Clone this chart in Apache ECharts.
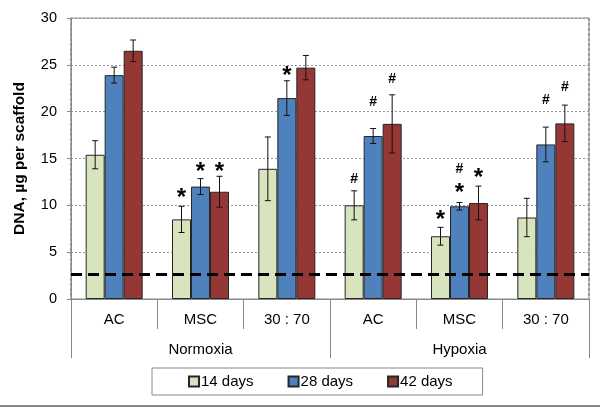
<!DOCTYPE html>
<html><head><meta charset="utf-8">
<script src="https://cdn.jsdelivr.net/npm/echarts@6/dist/echarts.min.js"></script>
<style>html,body{margin:0;padding:0;background:#fff}#c{width:600px;height:407px}</style>
</head><body><div id="c"></div>
<script>
var categories = ['AC', 'MSC', '30 : 70', 'AC', 'MSC', '30 : 70'];
var groups = ['Normoxia', 'Hypoxia'];
var seriesNames = ['14 days', '28 days', '42 days'];
var d14 = [15.4, 8.5, 13.9, 10.0, 6.7, 8.7];
var d28 = [23.9, 12.0, 21.45, 17.4, 9.9, 16.5];
var d42 = [26.5, 11.45, 24.7, 18.7, 10.25, 18.75];
var e14 = [1.5, 1.4, 3.4, 1.55, 0.95, 2.05];
var e28 = [0.85, 0.85, 1.85, 0.8, 0.4, 1.85];
var e42 = [1.15, 1.65, 1.3, 3.1, 1.8, 1.95];
var baseline = 2.6;
// [category index, series index, y position, symbol]
var marks = [
  [1, 0, 11.3, '*'], [1, 1, 14.0, '*'], [1, 2, 14.1, '*'],
  [2, 1, 24.3, '*'],
  [3, 0, 12.8, '#'], [3, 1, 21.0, '#'], [3, 2, 23.5, '#'],
  [4, 0, 8.9, '*'], [4, 1, 13.9, '#'], [4, 1, 11.85, '*'], [4, 2, 13.45, '*'],
  [5, 1, 21.2, '#'], [5, 2, 22.6, '#']
];

var BW = 19;
var colors = ['#D7E4BD', '#4F81BD', '#953735'];
var font = 'Liberation Sans, Arial, sans-serif';
var vals = [d14, d28, d42], errs = [e14, e28, e42];

var errData = [];
for (var s = 0; s < 3; s++) for (var i = 0; i < categories.length; i++)
  errData.push([i, s, vals[s][i] - errs[s][i], vals[s][i] + errs[s][i]]);

var series = [];
for (var s = 0; s < 3; s++) {
  series.push({
    type: 'bar', name: seriesNames[s], data: vals[s], barWidth: BW, barGap: '0%',
    itemStyle: {color: colors[s], borderColor: '#262626', borderWidth: 1},
    z: 2,
    markLine: s === 0 ? {
      silent: true, symbol: 'none', label: {show: false},
      lineStyle: {color: '#000', width: 3, type: [11, 6]},
      data: [{yAxis: baseline}]
    } : undefined
  });
}
series.push({
  type: 'custom', z: 5, silent: true,
  data: errData,
  renderItem: function (params, api) {
    var c = api.value(0), si = api.value(1);
    var top = api.coord([c, api.value(3)]);
    var bot = api.coord([c, api.value(2)]);
    var x = top[0] + (si - 1) * BW;
    var cap = 3;
    var st = {stroke: '#111', lineWidth: 1};
    return {type: 'group', children: [
      {type: 'line', shape: {x1: x, y1: top[1], x2: x, y2: bot[1]}, style: st},
      {type: 'line', shape: {x1: x - cap, y1: top[1], x2: x + cap, y2: top[1]}, style: st},
      {type: 'line', shape: {x1: x - cap, y1: bot[1], x2: x + cap, y2: bot[1]}, style: st}
    ]};
  }
});
series.push({
  type: 'custom', z: 6, silent: true,
  data: marks,
  renderItem: function (params, api) {
    var c = api.value(0), si = api.value(1);
    var p = api.coord([c, api.value(2)]);
    var m = marks[params.dataIndex][3];
    var isStar = m === '*';
    return {type: 'text', x: p[0] + (si - 1) * BW, y: p[1] + (isStar ? 5 : 0),
      style: {text: m, fill: '#000', font: 'bold ' + (isStar ? 24 : 14) + 'px ' + font,
        align: 'center', verticalAlign: 'middle'}};
  }
});

var chart = echarts.init(document.getElementById('c'));
chart.setOption({
  animation: false,
  backgroundColor: '#fff',
  grid: {left: 71, right: 11, top: 18, bottom: 108, show: true, borderColor: '#888', borderWidth: 1},
  legend: {
    data: seriesNames, left: 152, top: 368, orient: 'horizontal',
    padding: [6, 30, 6, 36], itemGap: 34, itemWidth: 10, itemHeight: 10,
    borderColor: '#888', borderWidth: 1, icon: 'rect',
    textStyle: {fontFamily: font, fontSize: 15, color: '#000', padding: [0, 0, 0, -3]}
  },
  xAxis: [{
    type: 'category', data: categories, position: 'bottom',
    axisLine: {show: true, lineStyle: {color: '#888'}},
    axisTick: {show: true, length: 30, lineStyle: {color: '#888'}},
    axisLabel: {fontFamily: font, fontSize: 15, color: '#000', margin: 13},
    splitLine: {show: false}
  }, {
    type: 'category', data: groups, position: 'bottom',
    axisLine: {show: false},
    axisTick: {show: true, length: 59, lineStyle: {color: '#888'}},
    axisLabel: {fontFamily: font, fontSize: 15, color: '#000', margin: 43},
    splitLine: {show: true, interval: function (i) { return i === 1; },
      lineStyle: {color: '#999', width: 2, type: [3, 2]}}
  }],
  yAxis: {
    type: 'value', min: 0, max: 30, interval: 5,
    name: 'DNA, µg per scaffold', nameLocation: 'middle', nameGap: 43, nameRotate: 90,
    nameTextStyle: {fontFamily: font, fontSize: 15.5, fontWeight: 'bold', color: '#000'},
    axisLine: {show: true, lineStyle: {color: '#888'}},
    axisTick: {show: true, length: 4, lineStyle: {color: '#888'}},
    axisLabel: {fontFamily: font, fontSize: 14.5, color: '#000', margin: 14},
    splitLine: {show: true, lineStyle: {color: '#999', type: [2, 2]}}
  },
  graphic: [{type: 'line', shape: {x1: 0, y1: 406, x2: 600, y2: 406}, style: {stroke: '#888', lineWidth: 2}}],
  series: series
});
</script></body></html>
